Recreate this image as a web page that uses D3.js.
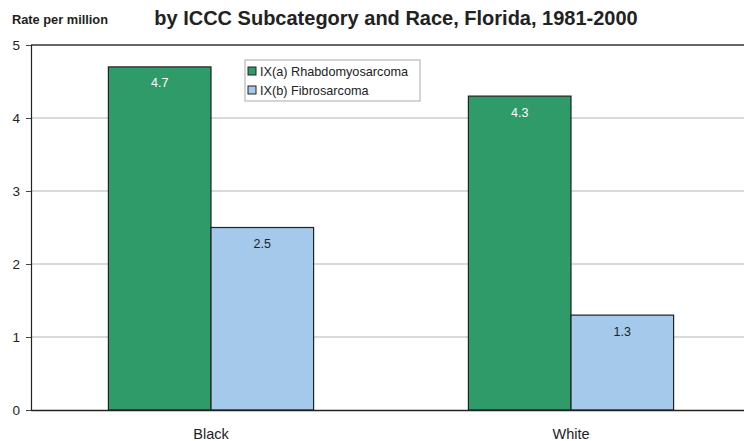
<!DOCTYPE html>
<html>
<head>
<meta charset="utf-8">
<script src="https://cdn.jsdelivr.net/npm/d3@7"></script>
<style>
  html, body { margin: 0; padding: 0; background: #fff; }
  svg { display: block; font-family: "Liberation Sans", Arial, sans-serif; }
</style>
</head>
<body>
<svg id="chart" width="744" height="441"></svg>
<script>
// Rates per million, by race and ICCC subcategory
const races = ["Black", "White"];
const subcategories = ["IX(a) Rhabdomyosarcoma", "IX(b) Fibrosarcoma"];
const rhabdomyosarcoma = [4.7, 4.3];
const fibrosarcoma = [2.5, 1.3];
const yTicks = [0, 1, 2, 3, 4, 5];

const seriesValues = [rhabdomyosarcoma, fibrosarcoma];
const colors = ["#2e9b69", "#a4c9eb"];
const labelColors = ["#ffffff", "#222222"];

const svg = d3.select("#chart");
const plot = { left: 31, right: 751, top: 45, bottom: 410 };

const x = d3.scaleBand().domain(races).range([plot.left, plot.right]).paddingInner(0).paddingOuter(0);
const xSub = d3.scaleBand().domain(d3.range(subcategories.length))
  .range([x.bandwidth() * 0.215, x.bandwidth() * 0.785]);
const y = d3.scaleLinear().domain([0, 5]).range([plot.bottom, plot.top]);

// Title and y-axis caption
svg.append("text").attr("x", 396).attr("y", 25).attr("text-anchor", "middle")
  .attr("font-size", 20).attr("font-weight", "bold").attr("fill", "#222")
  .text("by ICCC Subcategory and Race, Florida, 1981-2000");
svg.append("text").attr("x", 12).attr("y", 24)
  .attr("font-size", 12.8).attr("font-weight", "bold").attr("fill", "#222")
  .text("Rate per million");

// Horizontal gridlines
svg.append("g").selectAll("line").data(yTicks.filter(d => d > 0 && d < 5)).join("line")
  .attr("x1", plot.left).attr("x2", plot.right)
  .attr("y1", d => y(d)).attr("y2", d => y(d))
  .attr("stroke", "#b4b4b4").attr("stroke-width", 1);

// Top border of the plot area
svg.append("line").attr("x1", plot.left).attr("x2", plot.right)
  .attr("y1", y(5)).attr("y2", y(5)).attr("stroke", "#333").attr("stroke-width", 1.6);

// Bars
const groups = svg.append("g").selectAll("g").data(races).join("g")
  .attr("transform", d => `translate(${x(d)},0)`);

seriesValues.forEach((vals, si) => {
  groups.append("rect")
    .attr("x", xSub(si))
    .attr("width", xSub.bandwidth())
    .attr("y", (d, i) => y(vals[i]))
    .attr("height", (d, i) => y(0) - y(vals[i]))
    .attr("fill", colors[si])
    .attr("stroke", "#222").attr("stroke-width", 1.2);
  groups.append("text")
    .attr("x", xSub(si) + xSub.bandwidth() / 2)
    .attr("y", (d, i) => y(vals[i]) + 20.5)
    .attr("text-anchor", "middle").attr("font-size", 12.5)
    .attr("fill", labelColors[si])
    .text((d, i) => vals[i].toFixed(1));
});

// Y axis
const yAxis = svg.append("g").attr("transform", `translate(${plot.left},0)`)
  .call(d3.axisLeft(y).tickValues(yTicks).tickSize(5).tickFormat(d3.format("d")));
yAxis.select(".domain").attr("stroke", "#222").attr("stroke-width", 1.2);
yAxis.selectAll(".tick line").attr("stroke", "#444");
yAxis.selectAll(".tick text").attr("font-size", 13.5).attr("fill", "#222")
  .attr("font-family", "Liberation Sans, Arial, sans-serif").attr("x", -11);

// X axis
const xAxis = svg.append("g").attr("transform", `translate(0,${plot.bottom})`)
  .call(d3.axisBottom(x).tickSize(0).tickPadding(19));
xAxis.select(".domain").attr("stroke", "#222").attr("stroke-width", 1.4);
xAxis.selectAll(".tick text").attr("font-size", 14.5).attr("fill", "#222")
  .attr("font-family", "Liberation Sans, Arial, sans-serif");

// Legend
const legend = svg.append("g").attr("transform", "translate(245,60)");
legend.append("rect").attr("width", 175).attr("height", 41)
  .attr("fill", "#fff").attr("stroke", "#aaa").attr("stroke-width", 1);
subcategories.forEach((name, i) => {
  const row = legend.append("g").attr("transform", `translate(3,${6 + i * 19})`);
  row.append("rect").attr("width", 8).attr("height", 8).attr("y", 1)
    .attr("fill", colors[i]).attr("stroke", "#222").attr("stroke-width", 1);
  row.append("text").attr("x", 12).attr("y", 9.5).attr("font-size", 12.7).attr("fill", "#222")
    .text(name);
});
</script>
</body>
</html>
